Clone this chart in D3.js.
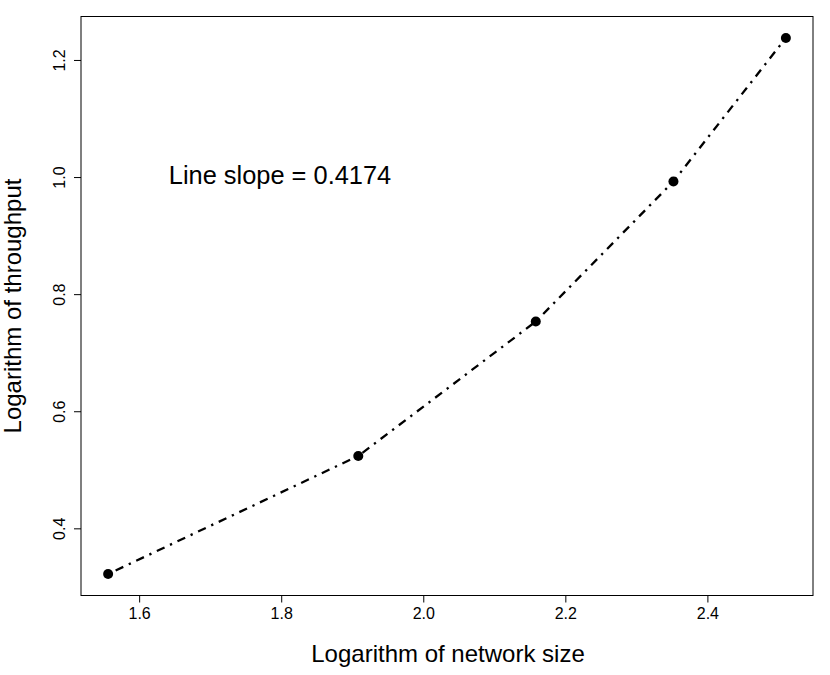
<!DOCTYPE html>
<html>
<head>
<meta charset="utf-8">
<script src="https://cdn.jsdelivr.net/npm/d3@7"></script>
<style>
  html, body { margin: 0; padding: 0; background: #fff; }
  svg text { font-family: "Liberation Sans", Arial, Helvetica, sans-serif; fill: #000; }
</style>
</head>
<body>
<svg id="chart" width="830" height="675"></svg>
<script>
// Data (log10 of network size, log10 of throughput)
const logNetworkSize = [1.5563, 1.9085, 2.1584, 2.3522, 2.5105];
const logThroughput  = [0.3219, 0.5236, 0.7532, 0.9925, 1.2376];
const xTicks = [1.6, 1.8, 2.0, 2.2, 2.4];
const yTicks = [0.4, 0.6, 0.8, 1.0, 1.2];
const xLabel = "Logarithm of network size";
const yLabel = "Logarithm of throughput";
const annotation = "Line slope = 0.4174";

const points = logNetworkSize.map((x, i) => ({ x, y: logThroughput[i] }));

const plot = { left: 81, right: 813, top: 16.5, bottom: 595.5 };

function padded(ext) {
  const d = (ext[1] - ext[0]) * 0.04;
  return [ext[0] - d, ext[1] + d];
}

const x = d3.scaleLinear().domain(padded(d3.extent(logNetworkSize))).range([plot.left, plot.right]);
const y = d3.scaleLinear().domain(padded(d3.extent(logThroughput))).range([plot.bottom, plot.top]);

const svg = d3.select("#chart");
svg.append("rect").attr("width", 830).attr("height", 675).attr("fill", "#fff");

// Line
const line = d3.line().x(d => x(d.x)).y(d => y(d.y));
svg.append("path")
  .datum(points)
  .attr("d", line)
  .attr("fill", "none")
  .attr("stroke", "#000")
  .attr("stroke-width", 2.3)
  .attr("stroke-dasharray", "2.3,6,8.5,6");

// Points
svg.selectAll("circle.pt")
  .data(points)
  .enter().append("circle")
  .attr("class", "pt")
  .attr("cx", d => x(d.x))
  .attr("cy", d => y(d.y))
  .attr("r", 5)
  .attr("fill", "#000");

// Box
svg.append("rect")
  .attr("x", plot.left).attr("y", plot.top)
  .attr("width", plot.right - plot.left).attr("height", plot.bottom - plot.top)
  .attr("fill", "none").attr("stroke", "#000").attr("stroke-width", 1);

// X axis
const xAxis = d3.axisBottom(x).tickValues(xTicks).tickSize(7).tickPadding(5).tickFormat(d3.format(".1f"));
const gx = svg.append("g").attr("transform", `translate(0,${plot.bottom})`).call(xAxis);
gx.select(".domain").remove();
gx.selectAll("line").attr("stroke", "#000");
gx.selectAll("text").attr("font-size", 16).attr("fill", "#000")
  .attr("font-family", "Liberation Sans, Arial, sans-serif");

// Y axis
const yAxis = d3.axisLeft(y).tickValues(yTicks).tickSize(7).tickFormat(d3.format(".1f"));
const gy = svg.append("g").attr("transform", `translate(${plot.left},0)`).call(yAxis);
gy.select(".domain").remove();
gy.selectAll("line").attr("stroke", "#000");
gy.selectAll("text")
  .attr("font-size", 16).attr("fill", "#000")
  .attr("font-family", "Liberation Sans, Arial, sans-serif")
  .attr("x", null).attr("dy", null)
  .attr("text-anchor", "middle")
  .attr("transform", "translate(-16.5,0) rotate(-90)");

// Axis titles
svg.append("text")
  .attr("x", (plot.left + plot.right) / 2 + 1)
  .attr("y", 662)
  .attr("text-anchor", "middle")
  .attr("font-size", 24)
  .text(xLabel);

svg.append("text")
  .attr("transform", `translate(21,${(plot.top + plot.bottom) / 2}) rotate(-90)`)
  .attr("text-anchor", "middle")
  .attr("font-size", 24)
  .text(yLabel);

// Annotation
svg.append("text")
  .attr("x", 280)
  .attr("y", 183.5)
  .attr("text-anchor", "middle")
  .attr("font-size", 25.4)
  .text(annotation);
</script>
</body>
</html>
